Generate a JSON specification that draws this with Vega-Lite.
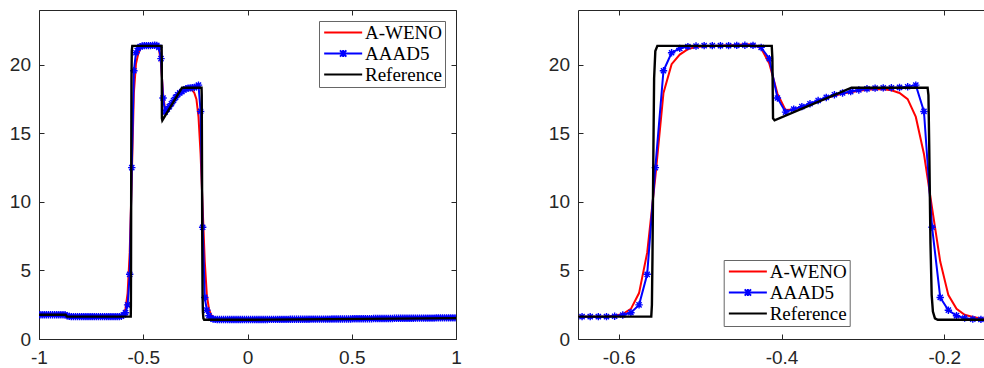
{
  "$schema": "https://vega.github.io/schema/vega-lite/v6.json",
  "padding": {"left": 9, "top": 9, "right": 0, "bottom": 0},
  "background": "white",
  "datasets": {
    "cells": [
      {"x": -0.995, "A-WENO": 1.77, "AAAD5": 1.77},
      {"x": -0.985, "A-WENO": 1.77, "AAAD5": 1.77},
      {"x": -0.975, "A-WENO": 1.77, "AAAD5": 1.77},
      {"x": -0.965, "A-WENO": 1.77, "AAAD5": 1.77},
      {"x": -0.955, "A-WENO": 1.77, "AAAD5": 1.77},
      {"x": -0.945, "A-WENO": 1.77, "AAAD5": 1.77},
      {"x": -0.935, "A-WENO": 1.77, "AAAD5": 1.77},
      {"x": -0.925, "A-WENO": 1.77, "AAAD5": 1.77},
      {"x": -0.915, "A-WENO": 1.77, "AAAD5": 1.77},
      {"x": -0.905, "A-WENO": 1.77, "AAAD5": 1.77},
      {"x": -0.895, "A-WENO": 1.77, "AAAD5": 1.77},
      {"x": -0.885, "A-WENO": 1.77, "AAAD5": 1.77},
      {"x": -0.875, "A-WENO": 1.77, "AAAD5": 1.77},
      {"x": -0.865, "A-WENO": 1.71, "AAAD5": 1.70},
      {"x": -0.855, "A-WENO": 1.65, "AAAD5": 1.65},
      {"x": -0.845, "A-WENO": 1.63, "AAAD5": 1.63},
      {"x": -0.835, "A-WENO": 1.63, "AAAD5": 1.63},
      {"x": -0.825, "A-WENO": 1.63, "AAAD5": 1.63},
      {"x": -0.815, "A-WENO": 1.63, "AAAD5": 1.63},
      {"x": -0.805, "A-WENO": 1.63, "AAAD5": 1.63},
      {"x": -0.795, "A-WENO": 1.63, "AAAD5": 1.63},
      {"x": -0.785, "A-WENO": 1.63, "AAAD5": 1.63},
      {"x": -0.775, "A-WENO": 1.63, "AAAD5": 1.63},
      {"x": -0.765, "A-WENO": 1.63, "AAAD5": 1.63},
      {"x": -0.755, "A-WENO": 1.63, "AAAD5": 1.63},
      {"x": -0.745, "A-WENO": 1.63, "AAAD5": 1.63},
      {"x": -0.735, "A-WENO": 1.63, "AAAD5": 1.63},
      {"x": -0.725, "A-WENO": 1.63, "AAAD5": 1.63},
      {"x": -0.715, "A-WENO": 1.63, "AAAD5": 1.63},
      {"x": -0.705, "A-WENO": 1.63, "AAAD5": 1.63},
      {"x": -0.695, "A-WENO": 1.63, "AAAD5": 1.63},
      {"x": -0.685, "A-WENO": 1.63, "AAAD5": 1.63},
      {"x": -0.675, "A-WENO": 1.63, "AAAD5": 1.63},
      {"x": -0.665, "A-WENO": 1.63, "AAAD5": 1.63},
      {"x": -0.655, "A-WENO": 1.63, "AAAD5": 1.63},
      {"x": -0.645, "A-WENO": 1.63, "AAAD5": 1.63},
      {"x": -0.635, "A-WENO": 1.63, "AAAD5": 1.63},
      {"x": -0.625, "A-WENO": 1.63, "AAAD5": 1.63},
      {"x": -0.615, "A-WENO": 1.64, "AAAD5": 1.63},
      {"x": -0.605, "A-WENO": 1.70, "AAAD5": 1.66},
      {"x": -0.595, "A-WENO": 1.82, "AAAD5": 1.75},
      {"x": -0.585, "A-WENO": 2.20, "AAAD5": 1.92},
      {"x": -0.575, "A-WENO": 3.35, "AAAD5": 2.49},
      {"x": -0.565, "A-WENO": 6.3, "AAAD5": 4.72},
      {"x": -0.555, "A-WENO": 11.8, "AAAD5": 12.5},
      {"x": -0.545, "A-WENO": 17.95, "AAAD5": 19.57},
      {"x": -0.535, "A-WENO": 20.05, "AAAD5": 20.88},
      {"x": -0.525, "A-WENO": 20.75, "AAAD5": 21.2},
      {"x": -0.515, "A-WENO": 21.15, "AAAD5": 21.33},
      {"x": -0.505, "A-WENO": 21.3, "AAAD5": 21.37},
      {"x": -0.495, "A-WENO": 21.35, "AAAD5": 21.4},
      {"x": -0.485, "A-WENO": 21.38, "AAAD5": 21.4},
      {"x": -0.475, "A-WENO": 21.4, "AAAD5": 21.4},
      {"x": -0.465, "A-WENO": 21.42, "AAAD5": 21.4},
      {"x": -0.455, "A-WENO": 21.45, "AAAD5": 21.42},
      {"x": -0.445, "A-WENO": 21.5, "AAAD5": 21.43},
      {"x": -0.435, "A-WENO": 21.48, "AAAD5": 21.42},
      {"x": -0.425, "A-WENO": 21.2, "AAAD5": 21.27},
      {"x": -0.415, "A-WENO": 20.1, "AAAD5": 20.45},
      {"x": -0.405, "A-WENO": 17.9, "AAAD5": 17.58},
      {"x": -0.395, "A-WENO": 16.7, "AAAD5": 16.55},
      {"x": -0.385, "A-WENO": 16.75, "AAAD5": 16.77},
      {"x": -0.375, "A-WENO": 16.9, "AAAD5": 16.95},
      {"x": -0.365, "A-WENO": 17.1, "AAAD5": 17.16},
      {"x": -0.355, "A-WENO": 17.33, "AAAD5": 17.4},
      {"x": -0.345, "A-WENO": 17.55, "AAAD5": 17.62},
      {"x": -0.335, "A-WENO": 17.75, "AAAD5": 17.82},
      {"x": -0.325, "A-WENO": 17.9, "AAAD5": 17.95},
      {"x": -0.315, "A-WENO": 18.0, "AAAD5": 18.05},
      {"x": -0.305, "A-WENO": 18.1, "AAAD5": 18.17},
      {"x": -0.295, "A-WENO": 18.18, "AAAD5": 18.25},
      {"x": -0.285, "A-WENO": 18.22, "AAAD5": 18.3},
      {"x": -0.275, "A-WENO": 18.22, "AAAD5": 18.32},
      {"x": -0.265, "A-WENO": 18.15, "AAAD5": 18.33},
      {"x": -0.255, "A-WENO": 17.95, "AAAD5": 18.35},
      {"x": -0.245, "A-WENO": 17.5, "AAAD5": 18.4},
      {"x": -0.235, "A-WENO": 16.2, "AAAD5": 18.52},
      {"x": -0.225, "A-WENO": 13.5, "AAAD5": 16.6},
      {"x": -0.215, "A-WENO": 9.55, "AAAD5": 8.15},
      {"x": -0.205, "A-WENO": 5.65, "AAAD5": 3.03},
      {"x": -0.195, "A-WENO": 3.2, "AAAD5": 2.1},
      {"x": -0.185, "A-WENO": 2.21, "AAAD5": 1.7},
      {"x": -0.175, "A-WENO": 1.77, "AAAD5": 1.52},
      {"x": -0.165, "A-WENO": 1.6, "AAAD5": 1.45},
      {"x": -0.155, "A-WENO": 1.5, "AAAD5": 1.43},
      {"x": -0.145, "A-WENO": 1.46, "AAAD5": 1.42},
      {"x": -0.135, "A-WENO": 1.44, "AAAD5": 1.42},
      {"x": -0.125, "A-WENO": 1.43, "AAAD5": 1.42},
      {"x": -0.115, "A-WENO": 1.42, "AAAD5": 1.42},
      {"x": -0.105, "A-WENO": 1.42, "AAAD5": 1.42},
      {"x": -0.095, "A-WENO": 1.42, "AAAD5": 1.42},
      {"x": -0.085, "A-WENO": 1.42, "AAAD5": 1.42},
      {"x": -0.075, "A-WENO": 1.42, "AAAD5": 1.42},
      {"x": -0.065, "A-WENO": 1.42, "AAAD5": 1.42},
      {"x": -0.055, "A-WENO": 1.42, "AAAD5": 1.42},
      {"x": -0.045, "A-WENO": 1.42, "AAAD5": 1.42},
      {"x": -0.035, "A-WENO": 1.42, "AAAD5": 1.42},
      {"x": -0.025, "A-WENO": 1.42, "AAAD5": 1.42},
      {"x": -0.015, "A-WENO": 1.42, "AAAD5": 1.42},
      {"x": -0.005, "A-WENO": 1.42, "AAAD5": 1.42},
      {"x": 0.005, "A-WENO": 1.42, "AAAD5": 1.42},
      {"x": 0.015, "A-WENO": 1.42, "AAAD5": 1.42},
      {"x": 0.025, "A-WENO": 1.42, "AAAD5": 1.42},
      {"x": 0.035, "A-WENO": 1.42, "AAAD5": 1.42},
      {"x": 0.045, "A-WENO": 1.42, "AAAD5": 1.42},
      {"x": 0.055, "A-WENO": 1.42, "AAAD5": 1.42},
      {"x": 0.065, "A-WENO": 1.42, "AAAD5": 1.42},
      {"x": 0.075, "A-WENO": 1.42, "AAAD5": 1.42},
      {"x": 0.085, "A-WENO": 1.42, "AAAD5": 1.42},
      {"x": 0.095, "A-WENO": 1.42, "AAAD5": 1.42},
      {"x": 0.105, "A-WENO": 1.43, "AAAD5": 1.43},
      {"x": 0.115, "A-WENO": 1.43, "AAAD5": 1.43},
      {"x": 0.125, "A-WENO": 1.43, "AAAD5": 1.43},
      {"x": 0.135, "A-WENO": 1.43, "AAAD5": 1.43},
      {"x": 0.145, "A-WENO": 1.43, "AAAD5": 1.43},
      {"x": 0.155, "A-WENO": 1.43, "AAAD5": 1.43},
      {"x": 0.165, "A-WENO": 1.43, "AAAD5": 1.43},
      {"x": 0.175, "A-WENO": 1.43, "AAAD5": 1.43},
      {"x": 0.185, "A-WENO": 1.43, "AAAD5": 1.43},
      {"x": 0.195, "A-WENO": 1.43, "AAAD5": 1.43},
      {"x": 0.205, "A-WENO": 1.44, "AAAD5": 1.44},
      {"x": 0.215, "A-WENO": 1.44, "AAAD5": 1.44},
      {"x": 0.225, "A-WENO": 1.44, "AAAD5": 1.44},
      {"x": 0.235, "A-WENO": 1.44, "AAAD5": 1.44},
      {"x": 0.245, "A-WENO": 1.44, "AAAD5": 1.44},
      {"x": 0.255, "A-WENO": 1.44, "AAAD5": 1.44},
      {"x": 0.265, "A-WENO": 1.44, "AAAD5": 1.44},
      {"x": 0.275, "A-WENO": 1.44, "AAAD5": 1.44},
      {"x": 0.285, "A-WENO": 1.44, "AAAD5": 1.44},
      {"x": 0.295, "A-WENO": 1.44, "AAAD5": 1.44},
      {"x": 0.305, "A-WENO": 1.45, "AAAD5": 1.45},
      {"x": 0.315, "A-WENO": 1.45, "AAAD5": 1.45},
      {"x": 0.325, "A-WENO": 1.45, "AAAD5": 1.45},
      {"x": 0.335, "A-WENO": 1.45, "AAAD5": 1.45},
      {"x": 0.345, "A-WENO": 1.45, "AAAD5": 1.45},
      {"x": 0.355, "A-WENO": 1.45, "AAAD5": 1.45},
      {"x": 0.365, "A-WENO": 1.45, "AAAD5": 1.45},
      {"x": 0.375, "A-WENO": 1.45, "AAAD5": 1.45},
      {"x": 0.385, "A-WENO": 1.45, "AAAD5": 1.45},
      {"x": 0.395, "A-WENO": 1.45, "AAAD5": 1.45},
      {"x": 0.405, "A-WENO": 1.46, "AAAD5": 1.46},
      {"x": 0.415, "A-WENO": 1.46, "AAAD5": 1.46},
      {"x": 0.425, "A-WENO": 1.46, "AAAD5": 1.46},
      {"x": 0.435, "A-WENO": 1.46, "AAAD5": 1.46},
      {"x": 0.445, "A-WENO": 1.46, "AAAD5": 1.46},
      {"x": 0.455, "A-WENO": 1.46, "AAAD5": 1.46},
      {"x": 0.465, "A-WENO": 1.46, "AAAD5": 1.46},
      {"x": 0.475, "A-WENO": 1.46, "AAAD5": 1.46},
      {"x": 0.485, "A-WENO": 1.46, "AAAD5": 1.46},
      {"x": 0.495, "A-WENO": 1.46, "AAAD5": 1.46},
      {"x": 0.505, "A-WENO": 1.48, "AAAD5": 1.48},
      {"x": 0.515, "A-WENO": 1.48, "AAAD5": 1.48},
      {"x": 0.525, "A-WENO": 1.48, "AAAD5": 1.48},
      {"x": 0.535, "A-WENO": 1.48, "AAAD5": 1.48},
      {"x": 0.545, "A-WENO": 1.48, "AAAD5": 1.48},
      {"x": 0.555, "A-WENO": 1.48, "AAAD5": 1.48},
      {"x": 0.565, "A-WENO": 1.48, "AAAD5": 1.48},
      {"x": 0.575, "A-WENO": 1.48, "AAAD5": 1.48},
      {"x": 0.585, "A-WENO": 1.48, "AAAD5": 1.48},
      {"x": 0.595, "A-WENO": 1.48, "AAAD5": 1.48},
      {"x": 0.605, "A-WENO": 1.49, "AAAD5": 1.49},
      {"x": 0.615, "A-WENO": 1.49, "AAAD5": 1.49},
      {"x": 0.625, "A-WENO": 1.49, "AAAD5": 1.49},
      {"x": 0.635, "A-WENO": 1.49, "AAAD5": 1.49},
      {"x": 0.645, "A-WENO": 1.49, "AAAD5": 1.49},
      {"x": 0.655, "A-WENO": 1.49, "AAAD5": 1.49},
      {"x": 0.665, "A-WENO": 1.49, "AAAD5": 1.49},
      {"x": 0.675, "A-WENO": 1.49, "AAAD5": 1.49},
      {"x": 0.685, "A-WENO": 1.49, "AAAD5": 1.49},
      {"x": 0.695, "A-WENO": 1.49, "AAAD5": 1.49},
      {"x": 0.705, "A-WENO": 1.51, "AAAD5": 1.51},
      {"x": 0.715, "A-WENO": 1.51, "AAAD5": 1.51},
      {"x": 0.725, "A-WENO": 1.51, "AAAD5": 1.51},
      {"x": 0.735, "A-WENO": 1.51, "AAAD5": 1.51},
      {"x": 0.745, "A-WENO": 1.51, "AAAD5": 1.51},
      {"x": 0.755, "A-WENO": 1.51, "AAAD5": 1.51},
      {"x": 0.765, "A-WENO": 1.51, "AAAD5": 1.51},
      {"x": 0.775, "A-WENO": 1.51, "AAAD5": 1.51},
      {"x": 0.785, "A-WENO": 1.51, "AAAD5": 1.51},
      {"x": 0.795, "A-WENO": 1.51, "AAAD5": 1.51},
      {"x": 0.805, "A-WENO": 1.52, "AAAD5": 1.52},
      {"x": 0.815, "A-WENO": 1.52, "AAAD5": 1.52},
      {"x": 0.825, "A-WENO": 1.52, "AAAD5": 1.52},
      {"x": 0.835, "A-WENO": 1.52, "AAAD5": 1.52},
      {"x": 0.845, "A-WENO": 1.52, "AAAD5": 1.52},
      {"x": 0.855, "A-WENO": 1.52, "AAAD5": 1.52},
      {"x": 0.865, "A-WENO": 1.52, "AAAD5": 1.52},
      {"x": 0.875, "A-WENO": 1.52, "AAAD5": 1.52},
      {"x": 0.885, "A-WENO": 1.52, "AAAD5": 1.52},
      {"x": 0.895, "A-WENO": 1.52, "AAAD5": 1.52},
      {"x": 0.905, "A-WENO": 1.54, "AAAD5": 1.54},
      {"x": 0.915, "A-WENO": 1.54, "AAAD5": 1.54},
      {"x": 0.925, "A-WENO": 1.54, "AAAD5": 1.54},
      {"x": 0.935, "A-WENO": 1.54, "AAAD5": 1.54},
      {"x": 0.945, "A-WENO": 1.54, "AAAD5": 1.54},
      {"x": 0.955, "A-WENO": 1.54, "AAAD5": 1.54},
      {"x": 0.965, "A-WENO": 1.54, "AAAD5": 1.54},
      {"x": 0.975, "A-WENO": 1.54, "AAAD5": 1.54},
      {"x": 0.985, "A-WENO": 1.54, "AAAD5": 1.54},
      {"x": 0.995, "A-WENO": 1.54, "AAAD5": 1.54}
    ],
    "ref": [
      {"x": -1.0, "Reference": 1.77},
      {"x": -0.872, "Reference": 1.77},
      {"x": -0.866, "Reference": 1.63},
      {"x": -0.5600, "Reference": 1.63},
      {"x": -0.5592, "Reference": 2.5},
      {"x": -0.5585, "Reference": 6.0},
      {"x": -0.5575, "Reference": 13.0},
      {"x": -0.5565, "Reference": 19.0},
      {"x": -0.5550, "Reference": 21.0},
      {"x": -0.5525, "Reference": 21.38},
      {"x": -0.4120, "Reference": 21.38},
      {"x": -0.4112, "Reference": 20.5},
      {"x": -0.4104, "Reference": 16.1},
      {"x": -0.4085, "Reference": 15.95},
      {"x": -0.3140, "Reference": 18.33},
      {"x": -0.2205, "Reference": 18.33},
      {"x": -0.2195, "Reference": 17.8},
      {"x": -0.2185, "Reference": 14.0},
      {"x": -0.2170, "Reference": 7.0},
      {"x": -0.2155, "Reference": 3.2},
      {"x": -0.2140, "Reference": 2.0},
      {"x": -0.2115, "Reference": 1.5},
      {"x": -0.2080, "Reference": 1.40},
      {"x": 0.1, "Reference": 1.41},
      {"x": 0.4, "Reference": 1.45},
      {"x": 0.7, "Reference": 1.49},
      {"x": 1.0, "Reference": 1.52}
    ]
  },
  "config": {
    "view": {"stroke": null},
    "axis": {
      "grid": false,
      "title": null,
      "domainColor": "#262626",
      "domainWidth": 1,
      "tickColor": "#262626",
      "tickWidth": 1,
      "tickSize": -5,
      "labelColor": "#262626",
      "labelFont": "Liberation Sans, Arial, sans-serif",
      "labelFontSize": 19,
      "labelFlush": false,
      "labelOverlap": false
    },
    "legend": {
      "title": null,
      "labelFont": "Liberation Serif, Times New Roman, DejaVu Serif, serif",
      "labelFontSize": 19,
      "labelColor": "#000000",
      "symbolSize": 160.4,
      "symbolStrokeWidth": 2,
      "labelOffset": 25,
      "padding": 2,
      "rowPadding": 1,
      "strokeColor": "#666666",
      "fillColor": "white"
    }
  },
  "spacing": 86,
  "resolve": {"scale": {"color": "independent"}, "legend": {"color": "independent"}},
  "hconcat": [
    {
      "width": 417,
      "height": 329,
      "resolve": {"axis": {"x": "independent", "y": "independent"}},
      "layer": [
        {
          "data": {"name": "cells"},
          "transform": [{"fold": ["A-WENO", "AAAD5"], "as": ["series", "value"]}],
          "mark": {"type": "line", "strokeWidth": 2, "clip": true},
          "encoding": {
            "x": {"field": "x", "type": "quantitative", "scale": {"domain": [-1, 1]},
                  "axis": {"orient": "bottom", "values": [-1, -0.5, 0, 0.5, 1], "format": ".1~f", "labelPadding": 14.5, "labelExpr": "replace(datum.label, '\u2212', '-')"}},
            "y": {"field": "value", "type": "quantitative", "scale": {"domain": [0, 23]},
                  "axis": {"orient": "left", "values": [0, 5, 10, 15, 20], "labelPadding": 13.5, "minExtent": 30, "maxExtent": 30}},
            "color": {"field": "series", "type": "nominal",
                      "scale": {"domain": ["A-WENO", "AAAD5", "Reference"], "range": ["#ff0000", "#0000ff", "#000000"]},
                      "legend": {"orient": "none", "legendX": 280, "legendY": 11,
                                 "encode": {"symbols": {"update": {"shape": {"signal": "datum.value === 'AAAD5' ? 'M-1,0L5,0M1.5,-0.5L2.5,0.5M1.5,0.5L2.5,-0.5M2,-0.55L2,0.55' : 'M-1,0L5,0'"}, "fill": {"value": "transparent"}}}}}}
          }
        },
        {
          "data": {"name": "cells"},
          "transform": [{"fold": ["AAAD5"], "as": ["series", "value"]}],
          "mark": {"type": "point", "shape": "M-1,0L1,0M0,-1L0,1M-0.7,-0.7L0.7,0.7M-0.7,0.7L0.7,-0.7", "filled": false, "size": 55, "strokeWidth": 1.4, "opacity": 1, "clip": true},
          "encoding": {
            "x": {"field": "x", "type": "quantitative", "axis": {"orient": "top", "values": [-1, -0.5, 0, 0.5, 1], "labels": false, "minExtent": 0, "maxExtent": 0}},
            "y": {"field": "value", "type": "quantitative", "axis": {"orient": "right", "values": [0, 5, 10, 15, 20], "labels": false, "minExtent": 0, "maxExtent": 0}},
            "color": {"field": "series", "type": "nominal"}
          }
        },
        {
          "data": {"name": "ref"},
          "transform": [{"fold": ["Reference"], "as": ["series", "value"]}],
          "mark": {"type": "line", "strokeWidth": 2.4, "clip": true},
          "encoding": {
            "x": {"field": "x", "type": "quantitative", "axis": null},
            "y": {"field": "value", "type": "quantitative", "axis": null},
            "color": {"field": "series", "type": "nominal"}
          }
        }
      ]
    },
    {
      "width": 407,
      "height": 329,
      "resolve": {"axis": {"x": "independent", "y": "independent"}},
      "layer": [
        {
          "data": {"name": "cells"},
          "transform": [{"fold": ["A-WENO", "AAAD5"], "as": ["series", "value"]}],
          "mark": {"type": "line", "strokeWidth": 2, "clip": true},
          "encoding": {
            "x": {"field": "x", "type": "quantitative", "scale": {"domain": [-0.65, -0.1616]},
                  "axis": {"orient": "bottom", "values": [-0.6, -0.4, -0.2], "format": ".1~f", "labelPadding": 14.5, "labelExpr": "replace(datum.label, '\u2212', '-')"}},
            "y": {"field": "value", "type": "quantitative", "scale": {"domain": [0, 23]},
                  "axis": {"orient": "left", "values": [0, 5, 10, 15, 20], "labelPadding": 13.5, "minExtent": 30, "maxExtent": 30}},
            "color": {"field": "series", "type": "nominal",
                      "scale": {"domain": ["A-WENO", "AAAD5", "Reference"], "range": ["#ff0000", "#0000ff", "#000000"]},
                      "legend": {"orient": "none", "legendX": 145.7, "legendY": 250,
                                 "encode": {"symbols": {"update": {"shape": {"signal": "datum.value === 'AAAD5' ? 'M-1,0L5,0M1.5,-0.5L2.5,0.5M1.5,0.5L2.5,-0.5M2,-0.55L2,0.55' : 'M-1,0L5,0'"}, "fill": {"value": "transparent"}}}}}}
          }
        },
        {
          "data": {"name": "cells"},
          "transform": [{"fold": ["AAAD5"], "as": ["series", "value"]}],
          "mark": {"type": "point", "shape": "M-1,0L1,0M0,-1L0,1M-0.7,-0.7L0.7,0.7M-0.7,0.7L0.7,-0.7", "filled": false, "size": 55, "strokeWidth": 1.4, "opacity": 1, "clip": true},
          "encoding": {
            "x": {"field": "x", "type": "quantitative", "axis": {"orient": "top", "values": [-0.6, -0.4, -0.2], "labels": false, "minExtent": 0, "maxExtent": 0}},
            "y": {"field": "value", "type": "quantitative", "axis": null},
            "color": {"field": "series", "type": "nominal"}
          }
        },
        {
          "data": {"name": "ref"},
          "transform": [{"fold": ["Reference"], "as": ["series", "value"]}],
          "mark": {"type": "line", "strokeWidth": 2.4, "clip": true},
          "encoding": {
            "x": {"field": "x", "type": "quantitative", "axis": null},
            "y": {"field": "value", "type": "quantitative", "axis": null},
            "color": {"field": "series", "type": "nominal"}
          }
        }
      ]
    }
  ]
}
